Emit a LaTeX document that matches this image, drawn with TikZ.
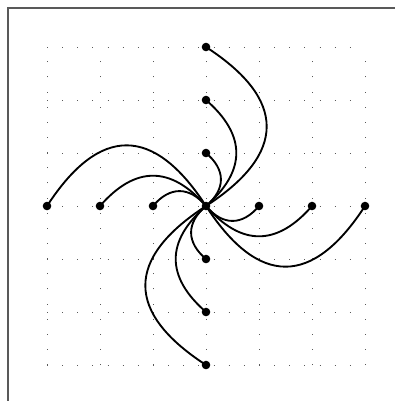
\documentclass[tikz,border=0pt]{standalone}
\begin{document}
\begin{tikzpicture}[
  dotnode/.style={circle,fill=black,inner sep=0pt,minimum size=4.6pt},
  curve/.style={line width=1pt,black},
  gridline/.style={black!65,line width=0.45pt,dash pattern=on 0.45pt off 7.68pt},
  frameline/.style={black!65,line width=1pt}
]
\useasboundingbox (-3.887,-3.679) rectangle (3.566,3.887);
\draw[frameline] (-3.736,-3.679) -- (-3.736,3.736) -- (3.566,3.736);
\draw[gridline] (-3,-3) grid (3,3);
\node[dotnode] (c) at (0,0) {};
\foreach \i in {1,2,3} {
  \node[dotnode] (r\i) at (\i,0) {};
  \node[dotnode] (l\i) at (-\i,0) {};
  \node[dotnode] (t\i) at (0,\i) {};
  \node[dotnode] (b\i) at (0,-\i) {};
}
\foreach \i/\a/\d in {1/50/0.49, 2/49/1.01, 3/57/1.82} {
  \draw[curve] (c.center) to[out=-\a, in=-180+\a, distance=\d cm] (r\i.center);
  \draw[curve] (c.center) to[out=90-\a, in=-90+\a, distance=\d cm] (t\i.center);
  \draw[curve] (c.center) to[out=180-\a, in=\a, distance=\d cm] (l\i.center);
  \draw[curve] (c.center) to[out=-90-\a, in=90+\a, distance=\d cm] (b\i.center);
}
\end{tikzpicture}
\end{document}
